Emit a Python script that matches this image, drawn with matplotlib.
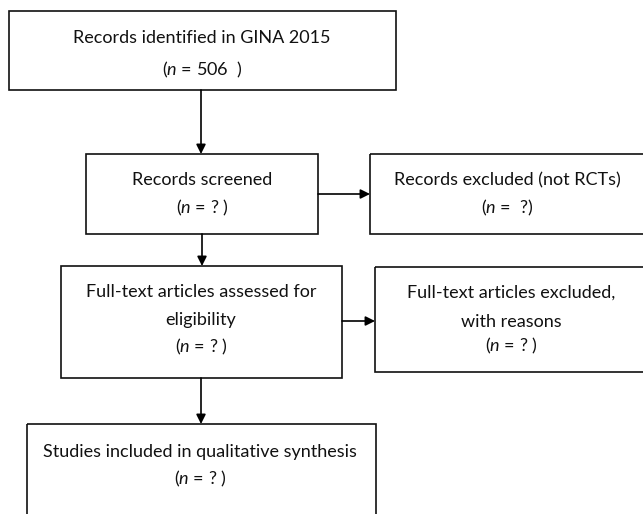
import matplotlib
matplotlib.use("Agg")
import matplotlib.pyplot as plt
from matplotlib.patches import Rectangle

# Textos del diagrama de flujo (PRISMA), una lista por caja
box_lines = [
    ["Records identified in GINA 2015", "($n$ = 506  )"],
    ["Records screened", "($n$ = ? )"],
    ["Records excluded (not RCTs)", "($n$ =  ?)"],
    ["Full-text articles assessed for", "eligibility", "($n$ = ? )"],
    ["Full-text articles excluded,", "with reasons", "($n$ = ? )"],
    ["Studies included in qualitative synthesis", "($n$ = ? )"],
]

# Geometría en píxeles: (izq, arriba, der, abajo)
box_geom = [
    (9, 11, 396, 90),
    (86, 154, 318, 234),
    (370, 154, 646, 234),
    (61, 266, 342, 378),
    (375, 267, 646, 372),
    (27, 424, 376, 530),
]
# Centro x del texto y posición y de cada renglón
text_x = [202, 202, 507, 201, 511, 200]
text_y = [
    [38, 70],
    [180, 208],
    [180, 208],
    [292, 320, 347],
    [293, 322, 346],
    [452, 479],
]

# Flechas: (x0, y0, x1, y1)
arrows = [
    (201, 90, 201, 154),
    (318, 194, 370, 194),
    (202, 234, 202, 266),
    (342, 321, 375, 321),
    (201, 378, 201, 424),
]

plt.rcParams["font.family"] = ["Lato", "DejaVu Sans"]
plt.rcParams["mathtext.fontset"] = "custom"
plt.rcParams["mathtext.it"] = "Lato:italic"
plt.rcParams["mathtext.rm"] = "Lato"

fig = plt.figure(figsize=(6.43, 5.14), dpi=100)
ax = fig.add_axes([0, 0, 1, 1])
ax.set_xlim(0, 643)
ax.set_ylim(514, 0)
ax.axis("off")

for lines, (x0, y0, x1, y1), tx, tys in zip(box_lines, box_geom, text_x, text_y):
    ax.add_patch(Rectangle((x0, y0), x1 - x0, y1 - y0, fill=False,
                           edgecolor="#111111", linewidth=1.2))
    for line, ty in zip(lines, tys):
        ax.text(tx, ty, line, ha="center", va="center",
                fontsize=13, color="#111111")

for x0, y0, x1, y1 in arrows:
    ax.annotate("", xy=(x1, y1), xytext=(x0, y0),
                arrowprops=dict(arrowstyle="-|>", color="black", lw=1.2,
                                mutation_scale=14, shrinkA=0, shrinkB=0))

plt.savefig("out.png", dpi=100)
